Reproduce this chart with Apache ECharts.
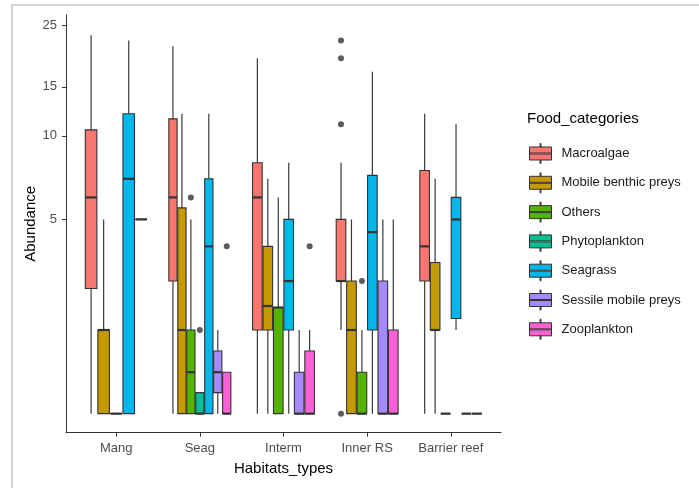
<!DOCTYPE html>
<html>
<head>
<meta charset="utf-8">
<script src="https://cdn.jsdelivr.net/npm/echarts@6/dist/echarts.min.js"></script>
<style>
html,body{margin:0;padding:0;background:#fff;}
#chart{width:699px;height:488px;}
</style>
</head>
<body>
<div id="chart"></div>
<script>
// ---- data ([min, Q1, median, Q3, max]) ----
const habitats = ['Mang', 'Seag', 'Interm', 'Inner RS', 'Barrier reef'];
const foodCategories = ['Macroalgae', 'Mobile benthic preys', 'Others', 'Phytoplankton', 'Seagrass', 'Sessile mobile preys', 'Zooplankton'];
const foodColors = ['#F8766D', '#C49A00', '#53B400', '#00C094', '#00B6EB', '#A58AFF', '#FB61D7'];
const yTickValues = [5, 10, 15, 25];

const macroalgae    = [[1, 2.82, 6, 10.5, 23], [1, 3, 6, 11.5, 21], [1, 2, 6, 8, 19], [2, 3, 3, 5, 8], [1, 3, 4, 7.5, 12]];
const mobileBenthic = [[1, 1, 2, 2, 5], [1, 1, 2, 5.5, 12], [1, 2, 2.44, 4, 7], [1, 1, 2, 3, 5], [1, 2, 2, 3.5, 7]];
const others        = [[1, 1, 1, 1, 1], [1, 1, 1.41, 2, 5], [1, 1, 2.41, 2.41, 6], [1, 1, 1, 1.41, 2], [1, 1, 1, 1, 1]];
const phytoplankton = [null, [1, 1, 1, 1.19, 1.19], null, null, null];
const seagrass      = [[1, 1, 7, 12, 22], [1, 1, 4, 7, 12], [1, 2, 3, 5, 8], [1, 2, 4.5, 7.2, 17], [2, 2.2, 5, 6, 11]];
const sessileMobile = [null, [1, 1.19, 1.41, 1.68, 2], [1, 1, 1, 1.41, 2], [1, 1, 1, 3, 5], [1, 1, 1, 1, 1]];
const zooplankton   = [[5, 5, 5, 5, 5], [1, 1, 1, 1.41, 1.41], [1, 1, 1, 1.68, 2], [1, 1, 1, 2, 5], [1, 1, 1, 1, 1]];

// outliers per habitat
const macroalgaeOut    = [[], [], [], [1, 11, 19, 22], []];
const mobileBenthicOut = [[], [], [], [], []];
const othersOut        = [[], [6], [], [3], []];
const phytoplanktonOut = [[], [2], [], [], []];
const seagrassOut      = [[], [], [], [], []];
const sessileMobileOut = [[], [], [], [], []];
const zooplanktonOut   = [[], [4], [4], [], []];

const boxStats = [macroalgae, mobileBenthic, others, phytoplankton, seagrass, sessileMobile, zooplankton];
const boxOutliers = [macroalgaeOut, mobileBenthicOut, othersOut, phytoplanktonOut, seagrassOut, sessileMobileOut, zooplanktonOut];

// ---- dodge (like ggplot position_dodge2, total width 0.75) ----
const DODGE = 0.75;
function dodgeInfo(catIdx, h) {
  const present = [];
  boxStats.forEach((arr, k) => { if (arr[h]) present.push(k); });
  const n = present.length;
  const j = present.indexOf(catIdx);
  const slot = DODGE / n;
  return { x: (h + 1) - DODGE / 2 + (j + 0.5) * slot, slot: slot };
}
const lg = v => Math.log10(v);

function renderBox(params, api) {
  const x = api.value(0);
  const slot = api.value(1);
  const pMin = api.coord([x, api.value(2)]);
  const pQ1 = api.coord([x, api.value(3)]);
  const pMed = api.coord([x, api.value(4)]);
  const pQ3 = api.coord([x, api.value(5)]);
  const pMax = api.coord([x, api.value(6)]);
  const w = api.size([slot, 0])[0] * 0.92;
  const cx = pMed[0];
  const color = api.visual('color');
  return {
    type: 'group',
    children: [
      { type: 'line', shape: { x1: cx, y1: pQ3[1], x2: cx, y2: pMax[1] }, style: { stroke: '#3a3a3a', lineWidth: 1.2 } },
      { type: 'line', shape: { x1: cx, y1: pQ1[1], x2: cx, y2: pMin[1] }, style: { stroke: '#3a3a3a', lineWidth: 1.2 } },
      { type: 'rect', shape: { x: cx - w / 2, y: pQ3[1], width: w, height: pQ1[1] - pQ3[1] }, style: { fill: color, stroke: '#333333', lineWidth: 1.1 } },
      { type: 'line', shape: { x1: cx - w / 2, y1: pMed[1], x2: cx + w / 2, y2: pMed[1] }, style: { stroke: '#333333', lineWidth: 2.2 } }
    ]
  };
}

const series = [];
foodCategories.forEach((name, k) => {
  const data = [];
  boxStats[k].forEach((st, h) => {
    if (!st) return;
    const d = dodgeInfo(k, h);
    data.push([d.x, d.slot].concat(st.map(lg)));
  });
  series.push({
    name: name,
    type: 'custom',
    renderItem: renderBox,
    itemStyle: { color: foodColors[k] },
    encode: { x: 0, y: [2, 3, 4, 5, 6] },
    data: data,
    silent: true,
    z: 2
  });
});
const outData = [];
boxOutliers.forEach((arr, k) => {
  arr.forEach((vals, h) => {
    if (!vals.length) return;
    const d = dodgeInfo(k, h);
    vals.forEach(v => outData.push([d.x, lg(v)]));
  });
});
series.push({
  name: 'outliers',
  type: 'scatter',
  data: outData,
  symbol: 'circle',
  symbolSize: 6,
  itemStyle: { color: '#333333' },
  silent: true,
  z: 3
});

const FONT = 'Liberation Sans';
const keyPath = 'path://M0,3.5L22,3.5L22,16.5L0,16.5Z M0,9.5L0,10.5L22,10.5L22,9.5Z M10.5,0L11.5,0L11.5,3.5L10.5,3.5Z M10.5,16.5L11.5,16.5L11.5,20L10.5,20Z';

const chart = echarts.init(document.getElementById('chart'), null, { renderer: 'canvas' });
chart.setOption({
  animation: false,
  backgroundColor: '#ffffff',
  textStyle: { fontFamily: FONT },
  graphic: [{
    type: 'rect',
    shape: { x: 12, y: 5, width: 720, height: 520 },
    style: { fill: 'none', stroke: '#d4d4d4', lineWidth: 2 },
    silent: true
  }],
  title: {
    text: 'Food_categories',
    left: 527, top: 111, padding: 0,
    textStyle: { fontFamily: FONT, fontSize: 15, fontWeight: 'normal', color: '#000000' }
  },
  legend: {
    orient: 'vertical',
    left: 529, top: 143, padding: 0,
    itemWidth: 22, itemHeight: 20, itemGap: 9.3 - 1,
    selectedMode: false,
    data: foodCategories.map(n => ({ name: n, icon: keyPath })),
    itemStyle: { borderColor: '#333333', borderWidth: 1 },
    textStyle: { fontFamily: FONT, fontSize: 13, color: '#1a1a1a', padding: [0, 0, 0, 5] }
  },
  grid: { left: 66, right: 198, top: 15, bottom: 55.3, containLabel: false },
  xAxis: {
    type: 'value',
    min: 0.4, max: 5.6,
    name: 'Habitats_types',
    nameLocation: 'middle',
    nameGap: 29,
    nameMoveOverlap: false,
    nameTextStyle: { fontFamily: FONT, fontSize: 15, color: '#000000' },
    axisLine: { show: true, onZero: false, lineStyle: { color: '#333333', width: 1 } },
    axisTick: { show: true, length: 4, customValues: [1, 2, 3, 4, 5], lineStyle: { color: '#333333' } },
    axisLabel: {
      customValues: [1, 2, 3, 4, 5],
      formatter: v => habitats[Math.round(v) - 1],
      margin: 9, fontFamily: FONT, fontSize: 13, color: '#4D4D4D'
    },
    splitLine: { show: false }
  },
  yAxis: {
    type: 'value',
    min: lg(0.854), max: lg(27.2),
    name: 'Abundance',
    nameLocation: 'middle',
    nameRotate: 90,
    nameGap: 28,
    nameMoveOverlap: false,
    nameTextStyle: { fontFamily: FONT, fontSize: 15, color: '#000000' },
    axisLine: { show: true, onZero: false, lineStyle: { color: '#333333', width: 1 } },
    axisTick: { show: true, length: 4, customValues: yTickValues.map(lg), lineStyle: { color: '#333333' } },
    axisLabel: {
      customValues: yTickValues.map(lg),
      formatter: v => String(Math.round(Math.pow(10, v))),
      margin: 9, fontFamily: FONT, fontSize: 13, color: '#4D4D4D'
    },
    splitLine: { show: false }
  },
  series: series
});
</script>
</body>
</html>
